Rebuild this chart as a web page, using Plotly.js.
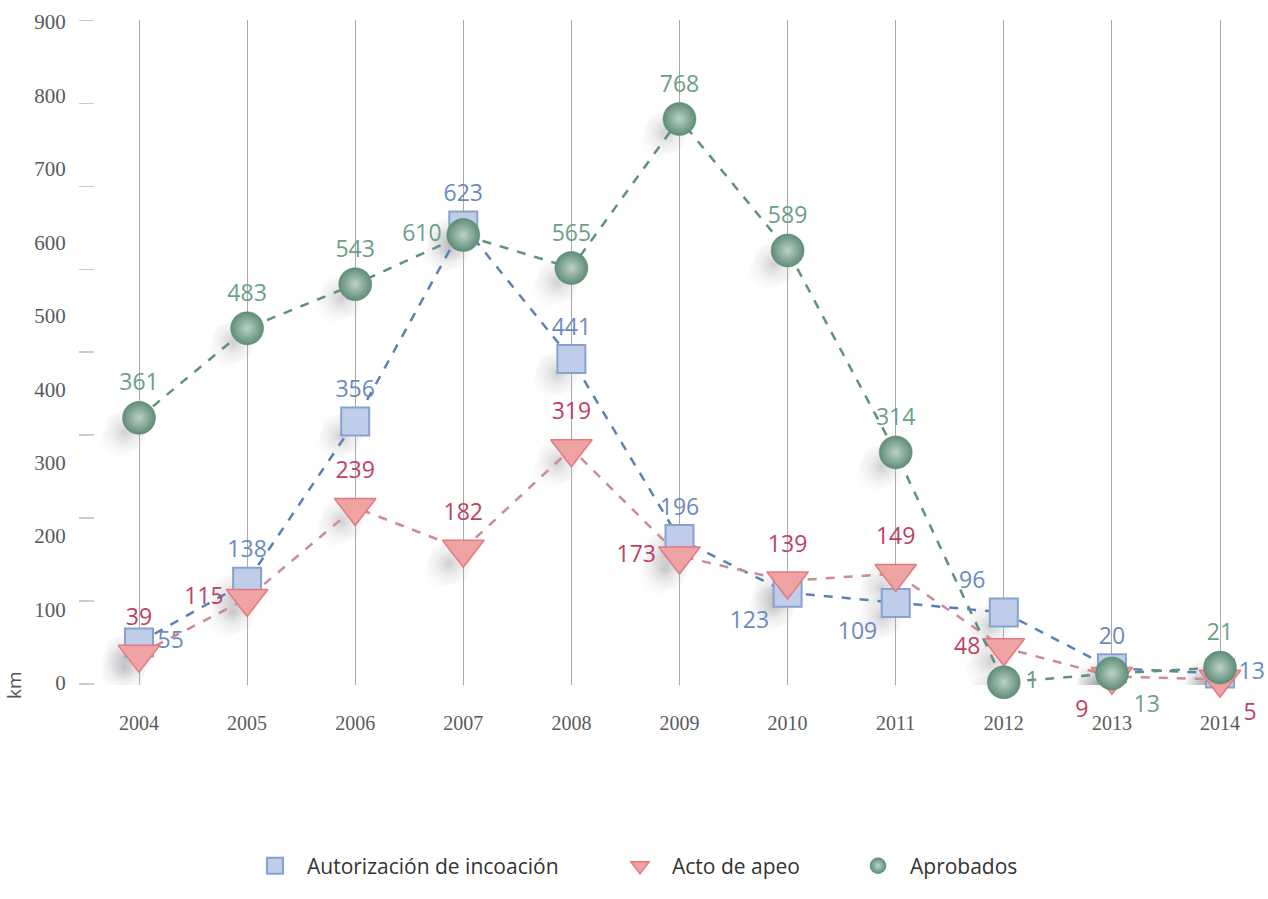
<!DOCTYPE html>
<html>
<head>
<meta charset="utf-8">
<script src="https://cdn.plot.ly/plotly-3.0.1.min.js"></script>
<style>html,body{margin:0;padding:0;background:#fff;}#chart{width:1268px;height:899px;}</style>
</head>
<body>
<div id="chart"></div>
<script>
// ---- data ----
const years = ['2004','2005','2006','2007','2008','2009','2010','2011','2012','2013','2014'];
const autorizacion = [55,138,356,623,441,196,123,109,96,20,13];
const actoApeo = [39,115,239,182,319,173,139,149,48,9,5];
const aprobados = [361,483,543,610,565,768,589,314,1,13,21];
const seriesNames = ['Autorización de incoación','Acto de apeo','Aprobados'];
const yTickVals = [0,100,200,300,400,500,600,700,800,900];

// ---- label placement (style) ----
const posBlue = ['middle right','top center','top center','top center','top center','top center','bottom left','bottom left','top left','top center','middle right'];
const posRed = ['top center','middle left','top center','top center','top center','middle left','top center','top center','middle left','bottom left','bottom right'];
const posGreen = ['top center','top center','top center','middle left','top center','top center','top center','top center','middle right','bottom right','top center'];

// ---- styles ----
const colBlue = {label:'#6a8bbf', line:'#5b80b8', fill:'#bfcde8', edge:'#86a3d0'};
const colRed = {label:'#c2405f', line:'#c98b9a', fill:'#f0a3a3', edge:'#e27a80'};
const colGreen = {label:'#6b9f89', line:'#5f917c', fill:'#5e8d77', center:'#bcd2c4'};
const labelFont = {family:'Open Sans, sans-serif', size:23};

const xs = years.map((y,i)=>i);
const mkBlue = {symbol:'square', size:28, color:colBlue.fill, line:{color:colBlue.edge, width:2}};
const mkRed = {symbol:'triangle-down', size:36, color:colRed.fill, line:{color:colRed.edge, width:1.5}};
const mkGreen = {symbol:'circle', size:33, color:colGreen.fill, gradient:{type:'radial', color:colGreen.center}, line:{color:'#5a8872', width:0.5}};
const shadowMk = {symbol:'diamond-tall', size:66, angle:45, color:'rgba(255,255,255,0)',
                  gradient:{type:'radial', color:'rgba(95,95,105,0.30)'}, line:{width:0}};

function shadow(vals){
  return {x:xs, y:vals, xaxis:'x', yaxis:'y', type:'scatter', mode:'markers', marker:shadowMk,
          showlegend:false, hoverinfo:'skip'};
}
function series(vals, name, pos, col, mk){
  return {x:xs, y:vals, xaxis:'x2', yaxis:'y2', name:name, type:'scatter', mode:'lines+markers+text',
          text:vals.map(String), textposition:pos,
          textfont:Object.assign({color:col.label}, labelFont),
          line:{color:col.line, width:2.5, dash:'dash'}, marker:mk, cliponaxis:false, showlegend:false};
}
function legendItem(name, mk, leg){
  return {x:[null], y:[null], xaxis:'x2', yaxis:'y2', name:name, type:'scatter', mode:'markers',
          marker:mk, showlegend:true, legend:leg};
}

const traces = [
  shadow(autorizacion), shadow(actoApeo), shadow(aprobados),
  series(autorizacion, seriesNames[0], posBlue, colBlue, mkBlue),
  series(actoApeo, seriesNames[1], posRed, colRed, mkRed),
  series(aprobados, seriesNames[2], posGreen, colGreen, mkGreen),
  legendItem(seriesNames[0], mkBlue, 'legend'),
  legendItem(seriesNames[1], mkRed, 'legend2'),
  legendItem(seriesNames[2], mkGreen, 'legend3'),
  {x:[null], y:[null], xaxis:'x2', yaxis:'y3', showlegend:false, hoverinfo:'skip', type:'scatter', mode:'markers'}
];

const plotTop = 20, plotBottom = 685, plotLeft = 95, W = 1268;
const pxPerUnitY = 661/900; // 0 at 683, 900 at 22
const yMin = -(plotBottom-683)/pxPerUnitY;
const yMax = 900 + (22-plotTop)/pxPerUnitY;
const pxPerCat = 108.1;
const xMin = -(139-plotLeft)/pxPerCat;
const xMax = xMin + (W-plotLeft)/pxPerCat;
const shadowShift = 14; // px down-left
const dx = shadowShift/pxPerCat, dy = shadowShift/pxPerUnitY;
const plotW = W-plotLeft, plotH = plotBottom-plotTop;
const legY = (plotBottom-866)/plotH;
const legX = px => (px-plotLeft)/plotW;

const tickFont = {family:'Liberation Serif, serif', size:21, color:'#5a5a5a'};
const legFont = {family:'Open Sans, sans-serif', size:21, color:'#333'};
const legBase = {orientation:'h', xanchor:'left', yanchor:'middle', y:legY, font:legFont,
                 itemsizing:'trace', itemwidth:54, bgcolor:'rgba(0,0,0,0)'};

const layout = {
  width:W, height:899,
  margin:{l:plotLeft, r:0, t:plotTop, b:899-plotBottom},
  paper_bgcolor:'#ffffff', plot_bgcolor:'#ffffff',
  showlegend:true,
  legend:Object.assign({x:legX(243)}, legBase),
  legend2:Object.assign({x:legX(608)}, legBase),
  legend3:Object.assign({x:legX(846)}, legBase),
  xaxis:{range:[xMin+dx, xMax+dx], visible:false, showgrid:false, zeroline:false},
  yaxis:{range:[yMin+dy, yMax+dy], visible:false, showgrid:false, zeroline:false},
  xaxis2:{
    overlaying:'x', anchor:'y2', range:[xMin,xMax], tickmode:'array', tickvals:xs, ticktext:years,
    showgrid:true, gridcolor:'#a9a9a9', gridwidth:1, zeroline:false, showline:false,
    ticks:'outside', ticklen:20, tickcolor:'rgba(0,0,0,0)',
    tickfont:{family:'Liberation Serif, serif', size:20, color:'#5a5a5a'}
  },
  yaxis2:{
    overlaying:'y', anchor:'x2', side:'left', range:[yMin,yMax], tickmode:'array', tickvals:yTickVals,
    showgrid:false, zeroline:false, showline:false,
    ticks:'outside', ticklen:24, tickcolor:'rgba(0,0,0,0)', tickfont:tickFont
  },
  yaxis3:{
    overlaying:'y', anchor:'x2', side:'left', range:[-0.012,8.005], tickmode:'array', tickvals:[0,1,2,3,4,5,6,7,8],
    showticklabels:false, showgrid:false, zeroline:false, showline:false,
    ticks:'outside', ticklen:15, tickcolor:'#cccccc', tickwidth:1.5
  },
  annotations:[
    {text:'km', xref:'paper', yref:'paper', x:-0.069, y:0, textangle:-90, showarrow:false,
     xanchor:'center', yanchor:'middle', font:{family:'Open Sans, sans-serif', size:19, color:'#555'}}
  ]
};

Plotly.newPlot('chart', traces, layout, {displayModeBar:false, staticPlot:true});
</script>
</body>
</html>
